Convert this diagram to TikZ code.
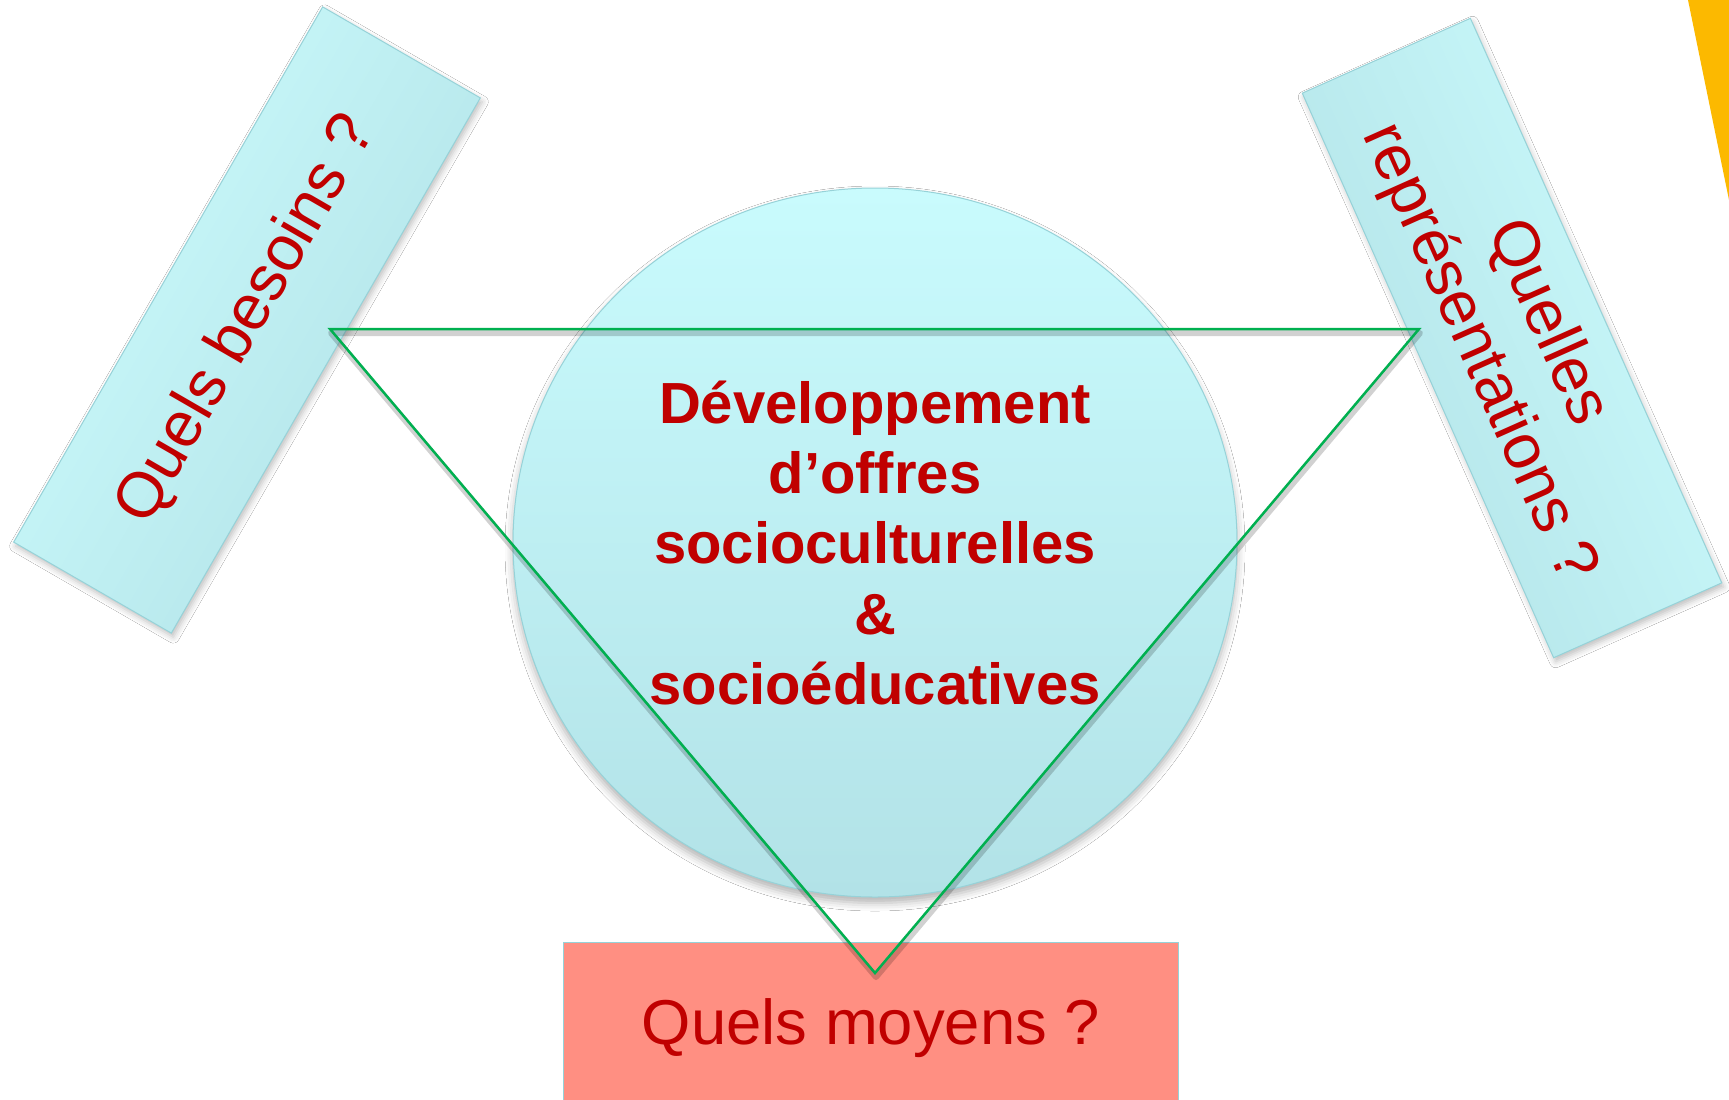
\documentclass[tikz,border=0pt]{standalone}
\usepackage{fontspec}
\setmainfont{Liberation Sans}
\usetikzlibrary{shapes.geometric,shadows.blur}
\definecolor{boxtop}{RGB}{204,252,253}
\definecolor{boxbot}{RGB}{177,225,230}
\definecolor{boxline}{RGB}{150,210,216}
\definecolor{circtop}{RGB}{201,251,253}
\definecolor{circbot}{RGB}{178,226,231}
\definecolor{txtred}{RGB}{192,0,0}
\definecolor{trigreen}{RGB}{0,176,80}
\definecolor{salmon}{RGB}{255,143,130}
\definecolor{gold}{RGB}{252,185,0}
\begin{document}
\begin{tikzpicture}[x=0.5pt,y=-0.5pt,
  qbox/.style={rectangle, draw=boxline, line width=0.5pt, top color=boxtop, bottom color=boxbot,
    inner sep=0pt, text=txtred, font=\fontsize{32}{37.5}\selectfont, align=center,
    blur shadow={shadow xshift=1pt, shadow yshift=-2pt, shadow blur radius=3pt, shadow opacity=25}},
  circbox/.style={ellipse, draw=boxline, line width=0.5pt, top color=circtop, bottom color=circbot,
    inner sep=0pt, blur shadow={shadow xshift=0pt, shadow yshift=-3pt, shadow blur radius=4pt, shadow opacity=30}},
  mbox/.style={rectangle, draw=boxline, line width=0.5pt, fill=salmon, inner sep=0pt,
    text=txtred, font=\fontsize{31.7}{38}\selectfont},
  triline/.style={trigreen, line width=1.25pt, line join=miter},
  trishadow/.style={black, opacity=0.18, line width=3pt, line join=round},
  centertext/.style={text=txtred, font=\bfseries\fontsize{29}{35.1}\selectfont, align=center, inner sep=0pt}
]
\useasboundingbox (0,0) rectangle (1729,1099);
\fill[white] (0,0) rectangle (1729,1099);
% yellow corner
\fill[gold] (1688,0) -- (1729,0) -- (1729,200) -- cycle;
% side boxes
\node[qbox, shading angle=60, minimum width=309pt, minimum height=91pt, rotate=60] (besoins) at (247,320) {Quels besoins ?};
\node[qbox, shading angle=-66, minimum width=309pt, minimum height=92pt, rotate=-66] (repr) at (1512,338) {Quelles\\représentations ?};
% circle
\node[circbox, minimum width=362pt, minimum height=354.5pt] (circ) at (875,542.5) {};
% bottom box
\node[mbox, minimum width=307.5pt, minimum height=86pt] (moyens) at (871,1028) {Quels moyens ?};
% triangle
\coordinate (tA) at (330,329);
\coordinate (tB) at (1419,329);
\coordinate (tC) at (875,973);
\draw[trishadow] ([xshift=0.5pt,yshift=-2pt]tA) -- ([xshift=0.5pt,yshift=-2pt]tB) -- ([xshift=0.5pt,yshift=-2pt]tC) -- cycle;
\draw[triline] (tA) -- (tB) -- (tC) -- cycle;
% central text
\node[centertext] (offres) at (875,543) {Développement\\d’offres\\socioculturelles\\\&\\socioéducatives};
\end{tikzpicture}
\end{document}
